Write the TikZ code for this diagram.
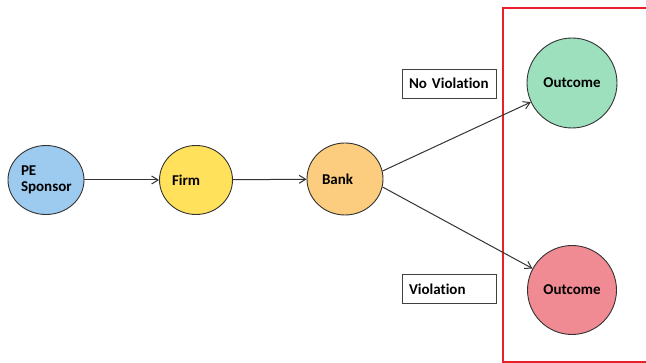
\documentclass[tikz,border=0pt]{standalone}
\usepackage{fontspec}
\setmainfont{Carlito}[Ligatures={NoCommon}]
\usepackage{tikz}
\usetikzlibrary{arrows.meta,shapes.geometric}
\definecolor{pebl}{HTML}{9DCBF0}
\definecolor{frmy}{HTML}{FFE15B}
\definecolor{bnko}{HTML}{FDCD7F}
\definecolor{outg}{HTML}{9DE0BD}
\definecolor{outr}{HTML}{F08A93}
\definecolor{zone}{HTML}{E8202A}
\tikzset{
  actor/.style={ellipse, draw=black!80, line width=0.9pt, inner sep=0pt,
    font=\fontsize{15}{16}\selectfont\bfseries, align=left},
  tag/.style={rectangle, draw=black!75, line width=0.9pt, minimum width=94pt,
    minimum height=29pt, text width=80pt, align=left, inner sep=0pt,
    font=\fontsize{15}{16}\selectfont\bfseries},
  flow/.style={-{Straight Barb[length=6.5pt,width=8pt]}, line width=1pt, black!80},
}
\begin{document}
\begin{tikzpicture}[x=1pt,y=-1pt]
  \useasboundingbox (0,0) rectangle (646,363);
  % decision zone (open on the right)
  \draw[zone, line width=2pt] (646,8) -- (503,8) -- (503,362) -- (646,362);
  % actors
  \node[actor, fill=pebl, minimum width=76pt, minimum height=69pt, text width=50pt] (pe) at (46,180) {PE\\Sponsor};
  \node[actor, fill=frmy, minimum width=73pt, minimum height=69pt, text width=48pt] (firm) at (196,180) {Firm};
  \node[actor, fill=bnko, minimum width=76pt, minimum height=72pt, text width=46pt] (bank) at (345,179) {Bank};
  \node[actor, circle, fill=outg, minimum size=90pt, align=center] (good) at (572,83) {Outcome};
  \node[actor, circle, fill=outr, minimum size=89pt, align=center] (bad) at (572,290) {Outcome};
  % branch labels
  \node[tag] (nov) at (449,83.5) {No Violation};
  \node[tag] (vio) at (449,289) {Violation};
  % connectors
  \draw[flow] (pe) -- (firm);
  \draw[flow] (firm) -- (bank);
  \draw[flow] (bank.12) -- (good);
  \draw[flow] (bank.-12) -- (bad);
\end{tikzpicture}
\end{document}
